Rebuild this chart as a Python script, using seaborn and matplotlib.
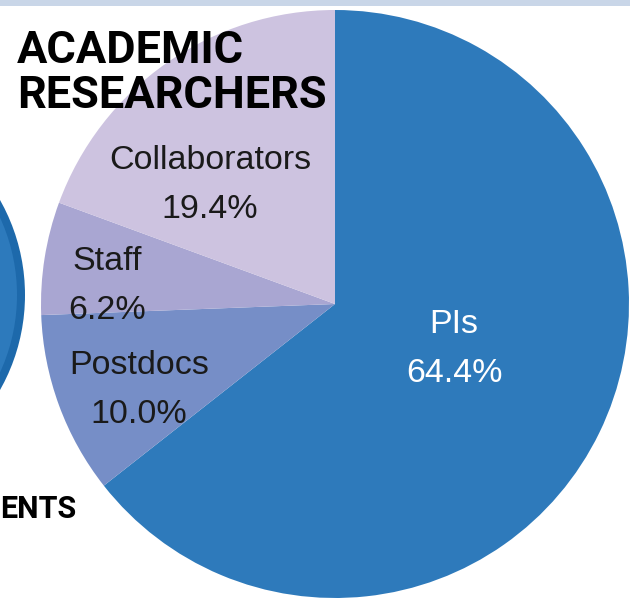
import matplotlib
matplotlib.use("Agg")
import matplotlib.pyplot as plt
from matplotlib.patches import Circle
import seaborn as sns

# ---- data ----
categories = ["PIs", "Postdocs", "Staff", "Collaborators"]
shares = [64.4, 10.0, 6.2, 19.4]
pct_labels = ["64.4%", "10.0%", "6.2%", "19.4%"]
title_lines = ["ACADEMIC", "RESEARCHERS"]
side_label = "ENTS"

# ---- style ----
sns.set_theme(style="white")
plt.rcParams['font.family'] = ['Liberation Sans', 'DejaVu Sans']
colors = ["#2e7abb", "#768ec7", "#a9a6d2", "#cdc3e0"]
text_colors = ["#ffffff", "#1a1a1a", "#1a1a1a", "#1a1a1a"]

W, H = 630, 598
fig = plt.figure(figsize=(W / 100, H / 100), dpi=100)
fig.patch.set_facecolor("white")

# top band
band = fig.add_axes([0, 1 - 6 / H, 1, 6 / H])
band.set_facecolor("#c9d6e8")
band.set_xticks([]); band.set_yticks([])
for s in band.spines.values():
    s.set_visible(False)

# neighbouring (cut-off) students pie at the left edge
side = fig.add_axes([0, 0, 1, 1], zorder=0)
side.set_xlim(0, W); side.set_ylim(H, 0)
side.axis("off")
side.add_patch(Circle((-168, 295), 193, facecolor="#1d69ab", edgecolor="none"))
side.add_patch(Circle((-168, 295), 185, facecolor="#2d7abc", edgecolor="none"))

# main pie
cx, cy, r = 335, 304, 294
ax = fig.add_axes([(cx - r) / W, (H - cy - r) / H, 2 * r / W, 2 * r / H], zorder=1)
wedges, _ = ax.pie(shares, colors=colors, startangle=90, counterclock=False,
                   radius=1, wedgeprops=dict(linewidth=0))
ax.set_xlim(-1, 1); ax.set_ylim(-1, 1)
ax.set_aspect("equal")
ax.axis("off")

# label anchors (axes data units)
label_pos = [(0.405, -0.153), (-0.667, -0.293), (-0.776, 0.061), (-0.425, 0.405)]
for (x, y), name, pct, tc in zip(label_pos, categories, pct_labels, text_colors):
    ax.text(x, y, f"{name}\n{pct}", ha="center", va="center", fontsize=24.5,
            color=tc, linespacing=1.75)

# titles
fig.text(17 / W, 1 - 63 / H, title_lines[0], fontsize=32.5, fontweight="bold",
         family=["Roboto", "DejaVu Sans"], color="black", va="baseline", ha="left", zorder=5)
fig.text(17 / W, 1 - 108 / H, title_lines[1], fontsize=32.5, fontweight="bold",
         family=["Roboto", "DejaVu Sans"], color="black", va="baseline", ha="left", zorder=5)
fig.text(0 / W, 1 - 518 / H, side_label, fontsize=22, fontweight="bold",
         family=["Roboto", "DejaVu Sans"], color="black",
         va="baseline", ha="left", zorder=5)

fig.savefig("out.png", dpi=100, facecolor="white")
